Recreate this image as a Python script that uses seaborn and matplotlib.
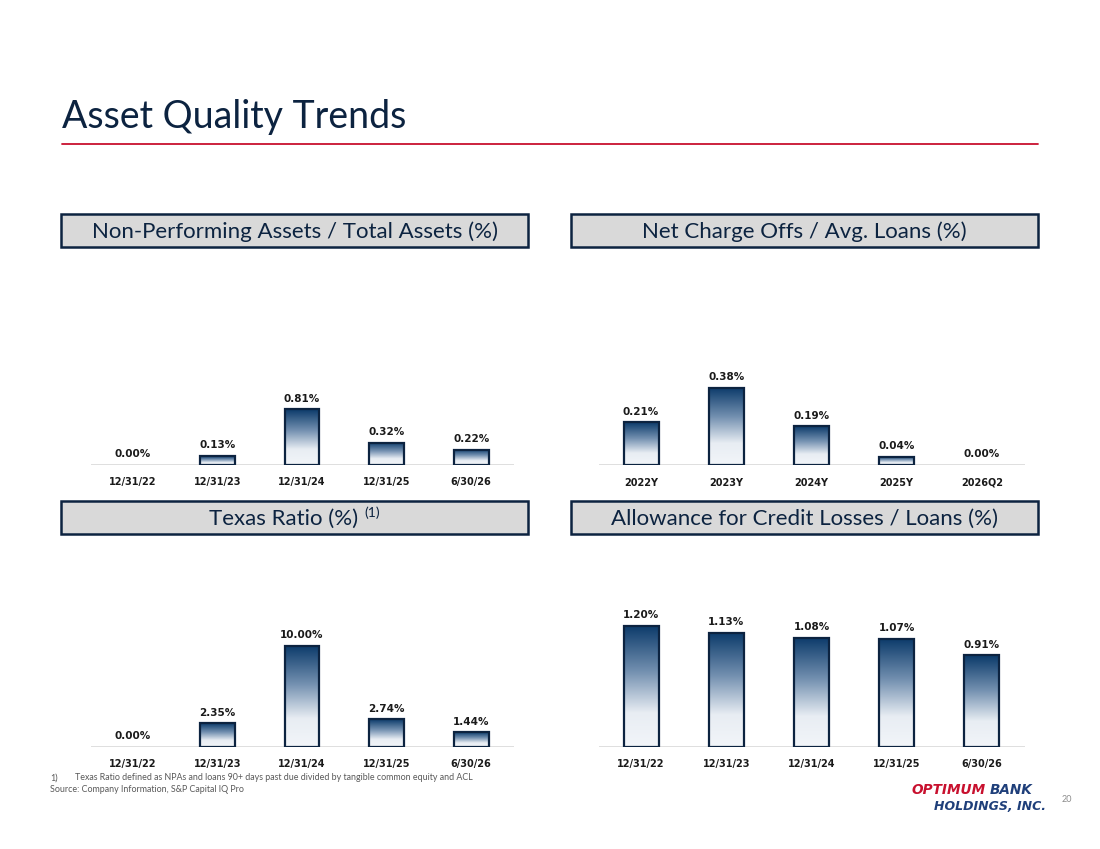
import matplotlib
matplotlib.use("Agg")
import matplotlib.pyplot as plt
import numpy as np
import seaborn as sns
from matplotlib.colors import LinearSegmentedColormap
from matplotlib.patches import Rectangle

# data
npa_dates = ['12/31/22', '12/31/23', '12/31/24', '12/31/25', '6/30/26']
npa_values = [0.00, 0.13, 0.81, 0.32, 0.22]

nco_periods = ['2022Y', '2023Y', '2024Y', '2025Y', '2026Q2']
nco_values = [0.21, 0.38, 0.19, 0.04, 0.00]

texas_dates = ['12/31/22', '12/31/23', '12/31/24', '12/31/25', '6/30/26']
texas_values = [0.00, 2.35, 10.00, 2.74, 1.44]

acl_dates = ['12/31/22', '12/31/23', '12/31/24', '12/31/25', '6/30/26']
acl_values = [1.20, 1.13, 1.08, 1.07, 0.91]

NAVY = '#0c2340'
TEXT = '#1a1a1a'
W, H = 1100, 849
SANS = ['Lato', 'DejaVu Sans']

sns.set_theme(style='white')
plt.rcParams['font.family'] = ['DejaVu Sans']

fig = plt.figure(figsize=(11, 8.49), dpi=100)
fig.patch.set_facecolor('white')

grad = LinearSegmentedColormap.from_list(
    'bar', [(0.0, '#f2f5f9'), (0.28, '#e8edf3'), (0.62, '#7390b0'), (1.0, '#0b3a6a')])
gimg = np.linspace(0, 1, 256).reshape(-1, 1)


def px_axes(x0, x1, y_top, y_bot):
    return fig.add_axes([x0 / W, 1 - y_bot / H, (x1 - x0) / W, (y_bot - y_top) / H])


def bar_panel(x0, x1, y_top, y_base, px_per_unit, labels, values):
    ax = px_axes(x0, x1, y_top, y_base)
    sns.barplot(x=labels, y=values, ax=ax, width=0.41, color='white',
                edgecolor=NAVY, linewidth=1.6)
    ymax = (y_base - y_top) / px_per_unit
    for p in ax.patches:
        p.set_facecolor('none')
        p.set_zorder(3)
        bx, bw, bh = p.get_x(), p.get_width(), p.get_height()
        if bh <= 0:
            p.set_visible(False)
            continue
        im = ax.imshow(gimg, cmap=grad, origin='lower', aspect='auto',
                       extent=[bx, bx + bw, 0, bh], zorder=2)
        im.set_clip_path(p)
    ax.bar_label(ax.containers[0], labels=[f'{v:.2f}%' for v in values],
                 padding=4, fontsize=7.5, fontweight='bold', color=TEXT)
    ax.axhline(0, color='#d9d9d9', lw=1.2, zorder=1)
    ax.set_xlim(-0.5, len(values) - 0.5)
    ax.set_ylim(0, ymax)
    ax.set_yticks([])
    ax.set_xlabel('')
    ax.set_ylabel('')
    for s in ax.spines.values():
        s.set_visible(False)
    ax.set_xticks(range(len(labels)))
    ax.set_xticklabels(labels, fontsize=7, fontweight='bold', color=TEXT)
    ax.tick_params(axis='x', length=0, pad=9)
    ax.patch.set_alpha(0)
    return ax


def header(x0, x1, y0, y1, text):
    fig.patches.append(Rectangle((x0 / W, 1 - y1 / H), (x1 - x0) / W, (y1 - y0) / H,
                                 transform=fig.transFigure, facecolor='#d9d9d9',
                                 edgecolor=NAVY, linewidth=1.8))
    return fig.text((x0 + x1) / 2 / W, 1 - (y0 + y1 + 2) / 2 / H, text, ha='center',
                    va='center', fontsize=16, color=NAVY, family=SANS)


# title and rule
fig.text(62 / W, 1 - 117 / H, 'Asset Quality Trends', fontsize=27, color=NAVY,
         va='center', ha='left', family=SANS)
fig.add_artist(plt.Line2D([62 / W, 1038 / W], [1 - 144 / H, 1 - 144 / H],
                          color='#c8102e', lw=1.3))

header(61, 528, 214, 247, 'Non-Performing Assets / Total Assets (%)')
header(571, 1038, 214, 247, 'Net Charge Offs / Avg. Loans (%)')
header(61, 528, 501, 534, '')
fig.text(284 / W, 1 - 519 / H, 'Texas Ratio (%)', ha='center', va='center',
         fontsize=16, color=NAVY, family=SANS)
fig.text(364 / W, 1 - 513 / H, '(1)', ha='left', va='center',
         fontsize=10, color=NAVY, family=SANS)
header(571, 1038, 501, 534, 'Allowance for Credit Losses / Loans (%)')

bar_panel(90.5, 513.5, 280, 465, 69, npa_dates, npa_values)
bar_panel(598.5, 1024.5, 280, 465, 203, nco_periods, nco_values)
bar_panel(90.5, 513.5, 560, 747, 10.1, texas_dates, texas_values)
bar_panel(598.5, 1024.5, 560, 747, 101, acl_dates, acl_values)

# footnotes
foot = dict(fontsize=6.4, color='#595959', va='center', family=SANS)
fig.text(50 / W, 1 - 778 / H, '1)', **foot)
fig.text(75 / W, 1 - 778 / H,
         'Texas Ratio defined as NPAs and loans 90+ days past due divided by tangible common equity and ACL',
         **foot)
fig.text(50 / W, 1 - 790 / H, 'Source: Company Information, S&P Capital IQ Pro', **foot)
fig.text(1062 / W, 1 - 800 / H, '20', fontsize=6.5, color='#8c8c8c', va='center',
         family=SANS)

# logo
logo = dict(fontweight='heavy', fontstyle='italic', va='center')
fig.text(912 / W, 1 - 790 / H, 'OPTIMUM', fontsize=9.8, color='#c8102e', ha='left', **logo)
fig.text(1032 / W, 1 - 790 / H, 'BANK', fontsize=9.8, color='#1f3f7a', ha='right', **logo)
fig.text(1046 / W, 1 - 806 / H, 'HOLDINGS, INC.', fontsize=9, color='#1f3f7a',
         ha='right', **logo)

fig.savefig('out.png', dpi=100, facecolor='white')
